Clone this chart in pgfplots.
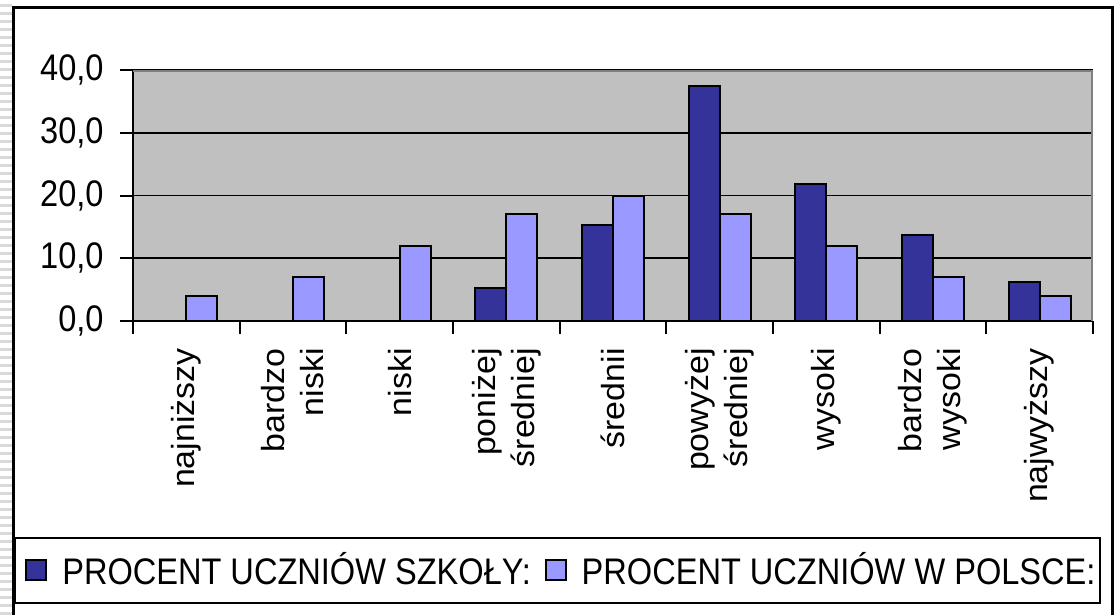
\documentclass[border=0pt]{standalone}
\usepackage{pgfplots}
\pgfplotsset{compat=1.18}
\usepackage{fontspec}
\setmainfont{Liberation Sans}
\newfontfamily\hfont{Liberation Sans}[FakeStretch=0.88]
\newfontfamily\vfont{Liberation Sans}[FakeStretch=1.06]
\definecolor{darkbar}{HTML}{333399}
\definecolor{lightbar}{HTML}{9999FF}
\definecolor{plotbg}{HTML}{C0C0C0}
\definecolor{frametop}{HTML}{808080}
\begin{document}
\begin{tikzpicture}[x=1pt,y=1pt]
\useasboundingbox (0,0) rectangle (557,307.5);
\draw[black!15, line width=6pt, dash pattern=on 1.5pt off 2.5pt] (3,0) -- (3,307.5);
\draw[black, line width=1.5pt] (6.5,-10) -- (6.5,303.5) -- (556,303.5) -- (556,-10);
\draw[black, line width=1pt] (7.5,6) rectangle (550,38.5);
\begin{axis}[
  at={(66.5pt,147pt)}, anchor=south west,
  scale only axis, width=480pt, height=125.5pt,
  xmin=-0.5, xmax=8.5, ymin=0, ymax=40,
  ybar=0pt, bar width=15.5pt,
  axis background/.style={fill=plotbg},
  axis lines*=left,
  axis line style={line width=1pt, black},
  ymajorgrids, grid style={black, line width=0.9pt},
  ytick={0,10,20,30,40},
  xtick={-0.5,0.5,...,8.5},
  xticklabels={},
  tick align=outside, major tick length=6.5pt,
  tick style={black, line width=1pt},
  extra x ticks={0,1,2,3,4,5,6,7,8},
  extra x tick labels={najniższy,{bardzo\\niski},niski,{poniżej\\średniej},średnii,{powyżej\\średniej},wysoki,{bardzo\\wysoki},najwyższy},
  extra x tick style={grid=none, major tick length=0pt,
    xticklabel style={rotate=90, anchor=east, align=right, inner xsep=13.5pt, inner ysep=0pt}},
  xticklabel style={font=\vfont\fontsize{16}{19.5}\selectfont},
  yticklabel style={font=\hfont\fontsize{18.5}{20}\selectfont, inner xsep=8pt},
  /pgf/number format/.cd, fixed, fixed zerofill, precision=1, use comma, assume math mode=true,
  /pgfplots/.cd,
  legend style={at={(-0.1125,-0.992)}, anchor=west, draw=none, fill=none,
    legend columns=2, font=\hfont\fontsize{18.5}{20}\selectfont, inner sep=0pt,
    /tikz/every even column/.append style={column sep=5pt}},
  legend image code/.code={\draw[#1, draw=black, line width=0.9pt] (0pt,-5pt) rectangle (10pt,5pt); \path[draw=none, fill=none] (0pt,0pt) -- (16pt,0pt);},
]
\addplot[fill=darkbar, draw=black, line width=1pt] coordinates {(3,5.2) (4,15.3) (5,37.5) (6,21.9) (7,13.7) (8,6.2)};
\addplot[fill=lightbar, draw=black, line width=1pt] coordinates {(0,4) (1,7) (2,12) (3,17) (4,20) (5,17) (6,12) (7,7) (8,4)};
\legend{PROCENT UCZNIÓW SZKOŁY:, PROCENT UCZNIÓW W POLSCE:}
\draw[frametop, line width=1.5pt] (rel axis cs:0,1) -- (rel axis cs:1,1) -- (rel axis cs:1,0);
\end{axis}
\end{tikzpicture}
\end{document}
